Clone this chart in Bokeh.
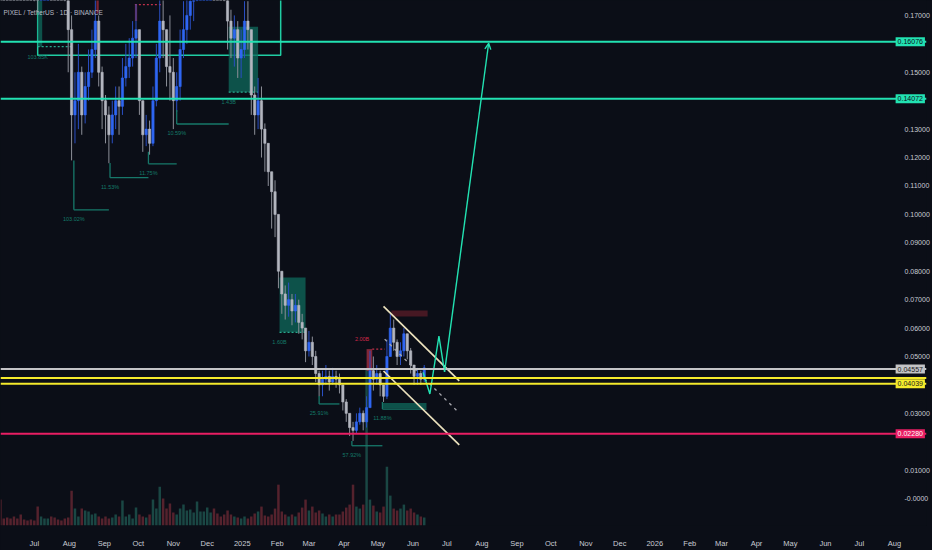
import numpy as np
from bokeh.plotting import figure
from bokeh.models import Range1d, FixedTicker, Span, Label, Arrow, OpenHead, ColumnDataSource
from bokeh.embed import file_html
from bokeh.resources import INLINE
from bokeh.core.properties import value

# ---------------- data ----------------
TITLE = "PIXEL / TetherUS · 1D · BINANCE"
CANDLE_START = "2024-06-01"
CANDLE_STEP_DAYS = 3
FIRST_OPEN = 0.35
CLOSE = [0.34, 0.32, 0.30, 0.29, 0.27, 0.26, 0.24, 0.22, 0.21, 0.20,
         0.19, 0.185, 0.20, 0.215, 0.22, 0.21, 0.205, 0.20, 0.19, 0.185,
         0.165, 0.135, 0.140, 0.150, 0.135, 0.145, 0.150, 0.158, 0.168, 0.150,
         0.140, 0.135, 0.128, 0.135, 0.140, 0.138, 0.148, 0.152, 0.155, 0.162,
         0.165, 0.140, 0.128, 0.130, 0.125, 0.140, 0.155, 0.168, 0.165, 0.152,
         0.150, 0.140, 0.145, 0.158, 0.165, 0.170, 0.175, 0.182, 0.190, 0.200,
         0.210, 0.220, 0.230, 0.220, 0.210, 0.200, 0.190, 0.168, 0.162, 0.165,
         0.155, 0.158, 0.168, 0.165, 0.142, 0.135, 0.140, 0.130, 0.125, 0.115,
         0.108, 0.100, 0.080, 0.072, 0.068, 0.070, 0.066, 0.068, 0.062, 0.060,
         0.052, 0.055, 0.050, 0.044, 0.040, 0.042, 0.043, 0.041, 0.043, 0.042,
         0.040, 0.034, 0.030, 0.025, 0.024, 0.027, 0.030, 0.027, 0.032, 0.045,
         0.042, 0.044, 0.040, 0.036, 0.050, 0.060, 0.055, 0.050, 0.052, 0.058,
         0.052, 0.047, 0.043, 0.044, 0.042, 0.046]
HIGH = [0.36, 0.35, 0.33, 0.31, 0.30, 0.28, 0.27, 0.25, 0.23, 0.22,
        0.21, 0.20, 0.21, 0.23, 0.24, 0.23, 0.22, 0.215, 0.205, 0.195,
        0.19, 0.17, 0.150, 0.160, 0.152, 0.150, 0.158, 0.165, 0.178, 0.170,
        0.152, 0.142, 0.138, 0.140, 0.145, 0.145, 0.155, 0.160, 0.162, 0.168,
        0.174, 0.160, 0.135, 0.135, 0.133, 0.145, 0.160, 0.178, 0.180, 0.165,
        0.170, 0.155, 0.150, 0.165, 0.175, 0.185, 0.190, 0.195, 0.200, 0.215,
        0.225, 0.240, 0.250, 0.240, 0.230, 0.215, 0.205, 0.180, 0.172, 0.170,
        0.168, 0.165, 0.175, 0.175, 0.165, 0.145, 0.148, 0.145, 0.132, 0.124,
        0.115, 0.112, 0.100, 0.080, 0.075, 0.076, 0.072, 0.072, 0.070, 0.065,
        0.060, 0.059, 0.057, 0.052, 0.045, 0.045, 0.047, 0.045, 0.046, 0.045,
        0.044, 0.040, 0.035, 0.030, 0.027, 0.030, 0.032, 0.031, 0.036, 0.052,
        0.050, 0.047, 0.045, 0.040, 0.056, 0.0655, 0.063, 0.056, 0.055, 0.060,
        0.058, 0.053, 0.047, 0.046, 0.045, 0.047]
LOW = [0.32, 0.30, 0.28, 0.27, 0.25, 0.24, 0.22, 0.21, 0.19, 0.185,
       0.175, 0.171, 0.18, 0.19, 0.20, 0.195, 0.19, 0.185, 0.178, 0.175,
       0.15, 0.119, 0.125, 0.130, 0.128, 0.132, 0.140, 0.148, 0.155, 0.145,
       0.130, 0.125, 0.118, 0.125, 0.130, 0.128, 0.135, 0.145, 0.148, 0.152,
       0.155, 0.135, 0.122, 0.124, 0.121, 0.124, 0.138, 0.150, 0.155, 0.145,
       0.140, 0.130, 0.136, 0.140, 0.155, 0.160, 0.165, 0.168, 0.175, 0.185,
       0.195, 0.205, 0.210, 0.205, 0.195, 0.185, 0.175, 0.158, 0.155, 0.152,
       0.148, 0.148, 0.155, 0.158, 0.135, 0.128, 0.130, 0.120, 0.115, 0.110,
       0.095, 0.092, 0.074, 0.065, 0.063, 0.064, 0.061, 0.062, 0.058, 0.056,
       0.048, 0.050, 0.047, 0.041, 0.036, 0.036, 0.040, 0.038, 0.040, 0.039,
       0.037, 0.031, 0.027, 0.022, 0.0203, 0.023, 0.026, 0.024, 0.025, 0.033,
       0.038, 0.040, 0.036, 0.034, 0.035, 0.050, 0.052, 0.047, 0.047, 0.050,
       0.049, 0.044, 0.040, 0.040, 0.040, 0.041]
VOLUME_M = [26, 7, 8, 7, 9, 7, 11, 6, 5, 6,
            5, 19, 9, 7, 7, 9, 8, 6, 5, 7,
            8, 35, 17, 9, 17, 15, 14, 11, 12, 9,
            7, 9, 7, 8, 11, 9, 25, 9, 11, 7,
            18, 11, 9, 8, 11, 26, 17, 39, 27, 17,
            22, 13, 11, 17, 21, 15, 16, 13, 24, 14,
            14, 18, 13, 17, 12, 9, 11, 15, 11, 9,
            8, 7, 9, 7, 9, 12, 14, 19, 10, 9,
            11, 17, 41, 14, 11, 9, 11, 9, 13, 18,
            26, 15, 19, 13, 15, 12, 9, 11, 9, 11,
            11, 14, 18, 21, 41, 19, 17, 21, 157, 26,
            20, 14, 13, 19, 59, 30, 17, 15, 17, 21,
            15, 17, 13, 11, 9, 8]

X_TICK_DATES = ["2024-06-01", "2024-07-01", "2024-08-01", "2024-09-01", "2024-10-01",
                "2024-11-01", "2024-12-01", "2025-01-01", "2025-02-01", "2025-03-01",
                "2025-04-01", "2025-05-01", "2025-06-01", "2025-07-01", "2025-08-01",
                "2025-09-01", "2025-10-01", "2025-11-01", "2025-12-01", "2026-01-01",
                "2026-02-01", "2026-03-01", "2026-04-01", "2026-05-01", "2026-06-01",
                "2026-07-01", "2026-08-01"]
X_TICK_LABELS = ["Jun", "Jul", "Aug", "Sep", "Oct", "Nov", "Dec", "2025", "Feb", "Mar",
                 "Apr", "May", "Jun", "Jul", "Aug", "Sep", "Oct", "Nov", "Dec", "2026",
                 "Feb", "Mar", "Apr", "May", "Jun", "Jul", "Aug"]
Y_TICKS = [0.0, 0.01, 0.02, 0.03, 0.04, 0.05, 0.06, 0.07, 0.08, 0.09,
           0.10, 0.11, 0.12, 0.13, 0.14, 0.15, 0.16, 0.17]
Y_TICK_LABELS = ["-0.0000", "0.01000", "", "0.03000", "", "0.05000", "0.06000", "0.07000",
                 "0.08000", "0.09000", "0.10000", "0.11000", "0.12000", "0.13000", "",
                 "0.15000", "", "0.17000"]

# horizontal levels: price, colour, price-tag text, tag text colour
LEVEL_PRICES = [0.16076, 0.14072, 0.04557, 0.0424, 0.04039, 0.02280]
LEVEL_COLORS = ["#22e2b2", "#22e2b2", "#c3c3c6", "#f5ea2c", "#f5ea2c", "#e91e63"]
LEVEL_TAGS = ["0.16076", "0.14072", "0.04557", "", "0.04039", "0.02280"]
LEVEL_TAG_TEXT = ["#0b0e17", "#0b0e17", "#1a1a1a", "#1a1a1a", "#1a1a1a", "#ffffff"]

# drawings (dates / prices)
OUTLINE_BOX = dict(left="2024-07-04", right="2025-02-04", top=0.20, bottom=0.156)
TEAL_BOX_LEFT = ["2024-07-04", "2024-12-20", "2025-02-03", "2025-05-05"]
TEAL_BOX_RIGHT = ["2024-07-08", "2025-01-15", "2025-02-26", "2025-06-13"]
TEAL_BOX_TOP = [0.178, 0.166, 0.0778, 0.0336]
TEAL_BOX_BOTTOM = [0.159, 0.143, 0.0585, 0.0318]
TEAL_DOT_END = ["2024-08-03", "2025-01-15", "2025-02-26"]
TEAL_BOX_TEXT = ["103.85K", "1.43B", "1.60B"]

RED_BOX_LEFT = ["2025-05-13", "2025-04-21", "2024-08-25", "2024-09-28"]
RED_BOX_RIGHT = ["2025-06-14", "2025-04-26", "2024-08-27", "2024-09-30"]
RED_BOX_TOP = [0.0662, 0.0526, 0.176, 0.1738]
RED_BOX_BOTTOM = [0.0641, 0.0449, 0.1707, 0.168]
RED_BOX_COLOR = ["#4d1a25", "#8e2a3c", "#8b2535", "#8b2535"]
RED_DOT_START = ["2024-09-28", "2025-04-26"]
RED_DOT_END = ["2024-10-22", "2025-05-07"]
RED_DOT_PRICE = [0.1738, 0.0526]
RED_TEXT = "2.00B"
RED_TEXT_AT = ("2025-04-17", 0.0563)

LOW_START = ["2024-08-05", "2024-09-06", "2024-10-10", "2024-11-04",
             "2025-03-10", "2025-04-08", "2025-05-05"]
LOW_END = ["2024-09-05", "2024-10-10", "2024-11-04", "2024-12-20",
           "2025-03-28", "2025-05-05", "2025-06-13"]
LOW_TOP = [0.119, 0.1181, 0.122, 0.1367, 0.0361, 0.0203, 0.0340]
LOW_BOTTOM = [0.1016, 0.1129, 0.1178, 0.1318, 0.0333, 0.0186, 0.0315]
LOW_TEXT = ["103.02%", "11.53%", "11.75%", "10.59%", "25.91%", "57.92%", "11.88%"]

CHANNEL_START = ["2025-05-06", "2025-05-06"]
CHANNEL_END = ["2025-07-12", "2025-07-12"]
CHANNEL_Y0 = [0.0676, 0.0449]
CHANNEL_Y1 = [0.0414, 0.0189]
MID_START, MID_END, MID_Y0, MID_Y1 = "2025-05-07", "2025-07-12", 0.0561, 0.0301

PATH_DATES = ["2025-06-10", "2025-06-16", "2025-06-24", "2025-06-29"]
PATH_PRICES = [0.0444, 0.0368, 0.0572, 0.0446]
TARGET_DATE, TARGET_PRICE = "2025-08-07", 0.1602
TAG_DATE = "2026-08-28"   # where the price tags sit on the scale

# ---------------- styling ----------------
BG = "#0b0e17"
UP, DOWN = "#2f66f2", "#b3b6bf"
UP_WICK, DOWN_WICK = "#2a4fc4", "#8c8f98"
VOL_UP, VOL_DOWN = "#1a4744", "#55222d"
TEAL = "#22e2b2"
TEAL_DIM = "#17786a"
FONT = "Liberation Sans"

REF_DAY = np.datetime64("2025-01-01")


def to_day(s):
    return float((np.datetime64(s) - REF_DAY) / np.timedelta64(1, "D"))


n = len(CLOSE)
x0 = to_day(CANDLE_START)
xs = [x0 + CANDLE_STEP_DAYS * i for i in range(n)]
opens = [FIRST_OPEN] + CLOSE[:-1]
ups = [c >= o for o, c in zip(opens, CLOSE)]
highs = [max(h, o, c) for h, o, c in zip(HIGH, opens, CLOSE)]
lows = [min(l, o, c) for l, o, c in zip(LOW, opens, CLOSE)]
src = ColumnDataSource(dict(
    x=xs, o=opens, c=CLOSE, h=highs, l=lows,
    top=[max(o, c) for o, c in zip(opens, CLOSE)],
    bot=[min(o, c) for o, c in zip(opens, CLOSE)],
    col=[UP if u else DOWN for u in ups],
    wcol=[UP_WICK if u else DOWN_WICK for u in ups],
    vcol=[VOL_UP if u else VOL_DOWN for u in ups],
    vol=VOLUME_M,
))

p = figure(width=932, height=550, output_backend="svg", toolbar_location=None,
           x_range=Range1d(-213.9, 605.4), y_range=Range1d(-0.009464, 0.17525),
           background_fill_color=BG, border_fill_color=BG, outline_line_color=None,
           min_border_left=0, min_border_top=0, min_border_bottom=23, min_border_right=1,
           y_axis_location="right")
p.extra_y_ranges = {"vol": Range1d(0, 527)}
p.xgrid.visible = False
p.ygrid.visible = False

# volume
p.vbar(x="x", top="vol", bottom=0, width=2.2, source=src, y_range_name="vol",
       fill_color="vcol", line_color=None)

# outline box and zones
ob = OUTLINE_BOX
p.quad(left=[to_day(ob["left"])], right=[to_day(ob["right"])], top=[ob["top"]],
       bottom=[ob["bottom"]], fill_color=None, line_color=TEAL, line_width=1.5, line_alpha=0.9)
p.quad(left=[to_day(s) for s in TEAL_BOX_LEFT], right=[to_day(s) for s in TEAL_BOX_RIGHT],
       top=TEAL_BOX_TOP, bottom=TEAL_BOX_BOTTOM, fill_color="#0f6a5c", fill_alpha=0.75,
       line_color=None)
p.segment(x0=[to_day(s) for s in TEAL_BOX_LEFT[:3]], x1=[to_day(s) for s in TEAL_DOT_END],
          y0=TEAL_BOX_BOTTOM[:3], y1=TEAL_BOX_BOTTOM[:3], line_color="#2aa88e",
          line_width=1.2, line_dash="2 2")
p.quad(left=[to_day(s) for s in RED_BOX_LEFT], right=[to_day(s) for s in RED_BOX_RIGHT],
       top=RED_BOX_TOP, bottom=RED_BOX_BOTTOM, fill_color=RED_BOX_COLOR, fill_alpha=0.9,
       line_color=None)
p.segment(x0=[to_day(s) for s in RED_DOT_START], x1=[to_day(s) for s in RED_DOT_END],
          y0=RED_DOT_PRICE, y1=RED_DOT_PRICE, line_color="#c0304a", line_width=1.2,
          line_dash="2 2")

# candles
p.segment(x0="x", x1="x", y0="l", y1="h", line_color="wcol", line_width=1, source=src)
p.vbar(x="x", top="top", bottom="bot", width=2.0, fill_color="col", line_color="col",
       line_width=0.6, source=src)

# low markers (L shapes)
ls = [to_day(s) for s in LOW_START]
le = [to_day(s) for s in LOW_END]
p.segment(x0=ls, x1=ls, y0=LOW_TOP, y1=LOW_BOTTOM, line_color=TEAL_DIM, line_width=1.3)
p.segment(x0=ls, x1=le, y0=LOW_BOTTOM, y1=LOW_BOTTOM, line_color=TEAL_DIM, line_width=1.3)
p.text(x=ls, y=LOW_BOTTOM, text=LOW_TEXT, text_color="#147a68", text_font=value(FONT),
       text_font_size="5.5px", text_align="center", text_baseline="top", y_offset=6)
p.text(x=[to_day(s) for s in TEAL_BOX_LEFT[:3]], y=TEAL_BOX_BOTTOM[:3], text=TEAL_BOX_TEXT,
       text_color="#147a68", text_font=value(FONT), text_font_size="5.5px",
       text_align="center", text_baseline="top", y_offset=7)
p.text(x=[to_day(RED_TEXT_AT[0])], y=[RED_TEXT_AT[1]], text=[RED_TEXT], text_color="#d0284a",
       text_font=value(FONT), text_font_size="5.5px", text_align="center",
       text_baseline="middle")

# horizontal levels
for lv, col in zip(LEVEL_PRICES, LEVEL_COLORS):
    p.add_layout(Span(location=lv, dimension="width", line_color=col, line_width=2))

# channel
p.segment(x0=[to_day(s) for s in CHANNEL_START], x1=[to_day(s) for s in CHANNEL_END],
          y0=CHANNEL_Y0, y1=CHANNEL_Y1, line_color="#ebe1bd", line_width=1.7)
p.segment(x0=[to_day(MID_START)], x1=[to_day(MID_END)], y0=[MID_Y0], y1=[MID_Y1],
          line_color="#a8a8ae", line_width=1.3, line_dash="3 4")

# projection path + arrow
p.line([to_day(s) for s in PATH_DATES], PATH_PRICES, line_color=TEAL, line_width=1.4)
p.add_layout(Arrow(end=OpenHead(size=6, line_color=TEAL, line_width=1.4),
                   x_start=to_day(PATH_DATES[-1]), y_start=PATH_PRICES[-1],
                   x_end=to_day(TARGET_DATE), y_end=TARGET_PRICE,
                   line_color=TEAL, line_width=1.4))

# price tags on the scale
for lv, tag, col, tcol in zip(LEVEL_PRICES, LEVEL_TAGS, LEVEL_COLORS, LEVEL_TAG_TEXT):
    if tag:
        p.add_layout(Label(x=to_day(TAG_DATE), y=lv, text=tag, text_align="right",
                           text_baseline="middle", text_font=FONT, text_font_size="7px",
                           text_color=tcol, background_fill_color=col, padding=2))

# axes
ya = p.yaxis[0]
ya.ticker = FixedTicker(ticks=Y_TICKS)
ya.major_label_overrides = {t: lab for t, lab in zip(Y_TICKS, Y_TICK_LABELS)}
ya.axis_line_color = None
ya.major_tick_line_color = None
ya.minor_tick_line_color = None
ya.major_label_text_color = "#c9ccd4"
ya.major_label_text_font = FONT
ya.major_label_text_font_size = "7px"
ya.major_label_standoff = -28

xt = [int(to_day(s)) for s in X_TICK_DATES]
xa = p.xaxis[0]
xa.ticker = FixedTicker(ticks=xt)
xa.major_label_overrides = {t: lab for t, lab in zip(xt, X_TICK_LABELS)}
xa.axis_line_color = None
xa.major_tick_line_color = None
xa.minor_tick_line_color = None
xa.major_label_text_color = "#c9ccd4"
xa.major_label_text_font = FONT
xa.major_label_text_font_size = "7.5px"
xa.major_label_standoff = 7

p.add_layout(Label(x=3, y=513, x_units="screen", y_units="screen", text=TITLE,
                   text_font=FONT, text_font_size="6.5px", text_color="#b8bbc4",
                   text_baseline="middle"))

html = file_html(p, INLINE, title="PIXEL / TetherUS")
html = html.replace("</head>", "<style>body{background:#0b0e17;}</style></head>", 1)
open("out.html", "w").write(html)
